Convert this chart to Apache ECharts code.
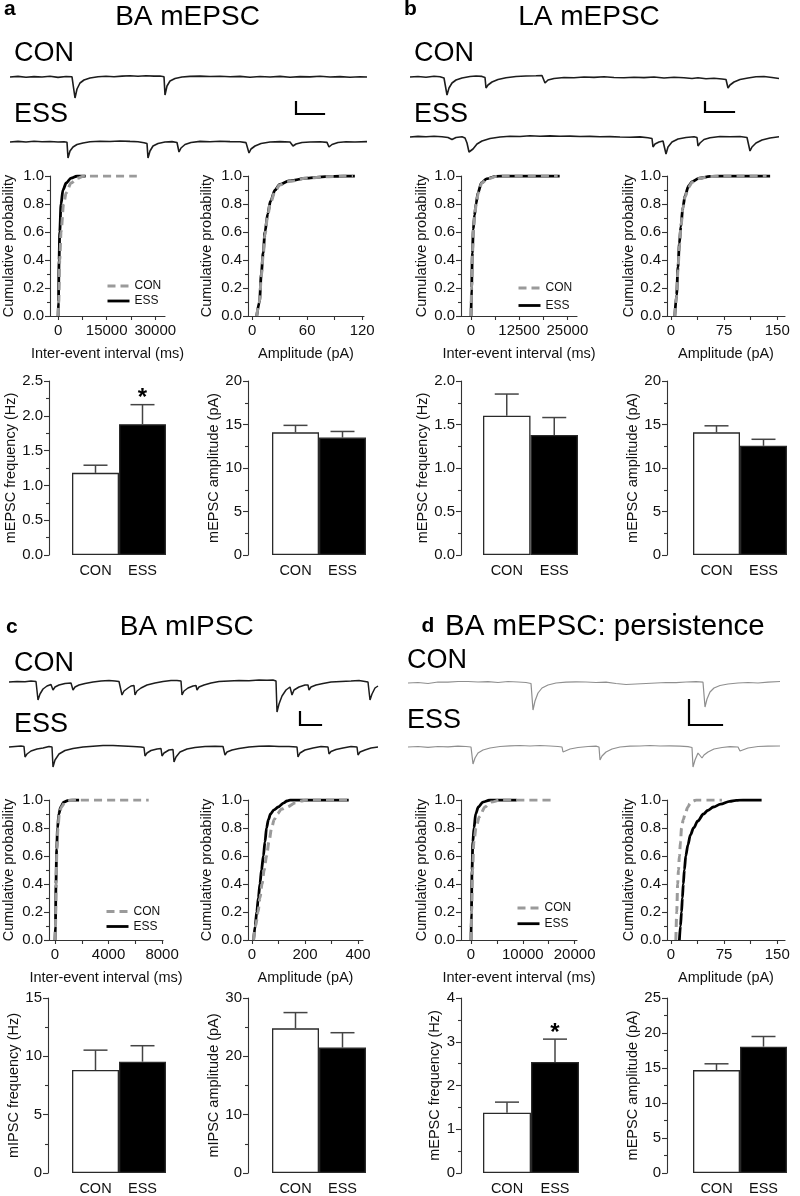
<!DOCTYPE html>
<html><head><meta charset="utf-8">
<script src="https://cdn.jsdelivr.net/npm/echarts@6/dist/echarts.min.js"></script>
<style>html,body{margin:0;padding:0;background:#fff}#c{width:800px;height:1196px}</style>
</head><body><div id="c"></div>
<script>
const FONT = '"Liberation Sans", Arial, Helvetica, sans-serif';
const AX = '#333', TXT = '#111';

// ---------- labels ----------
const groups = ['CON', 'ESS'];
const panelLetters = ['a', 'b', 'c', 'd'];
const panelTitles = ['BA mEPSC', 'LA mEPSC', 'BA mIPSC', 'BA mEPSC: persistence'];
const ieiLabel = 'Inter-event interval (ms)';
const ampLabel = 'Amplitude (pA)';
const cumLabel = 'Cumulative probability';
const barYLabels = ['mEPSC frequency (Hz)', 'mEPSC amplitude (pA)', 'mEPSC frequency (Hz)', 'mEPSC amplitude (pA)',
                    'mIPSC frequency (Hz)', 'mIPSC amplitude (pA)', 'mEPSC frequency (Hz)', 'mEPSC amplitude (pA)'];

// ---------- tick values ----------
const ticksA_iei = [0, 15000, 30000], minorA_iei = [0, 7500, 15000, 22500, 30000];
const ticksA_amp = [0, 60, 120], minorA_amp = [0, 30, 60, 90, 120];
const ticksB_iei = [0, 12500, 25000], minorB_iei = [0, 6250, 12500, 18750, 25000];
const ticksB_amp = [0, 75, 150], minorB_amp = [0, 37.5, 75, 112.5, 150];
const ticksC_iei = [0, 4000, 8000], minorC_iei = [0, 2000, 4000, 6000, 8000];
const ticksC_amp = [0, 200, 400], minorC_amp = [0, 100, 200, 300, 400];
const ticksD_iei = [0, 10000, 20000], minorD_iei = [0, 5000, 10000, 15000, 20000];
const ticksD_amp = [0, 75, 150], minorD_amp = [0, 37.5, 75, 112.5, 150];

// ---------- cumulative distributions [x, probability] ----------
const cumA_iei_ess = [[0,0],[100,0.1],[300,0.4],[500,0.6],[900,0.8],[1500,0.9],[2500,0.95],[4000,0.985],[6000,1],[8500,1]];
const cumA_iei_con = [[0,0],[200,0.1],[500,0.4],[900,0.6],[1700,0.8],[2500,0.88],[4000,0.95],[6000,0.985],[8000,1],[24300,1]];
const cumA_amp_ess = [[5,0],[8,0.1],[10,0.3],[12,0.45],[14,0.6],[17,0.73],[20,0.82],[25,0.9],[30,0.94],[40,0.965],[60,0.985],[80,0.995],[100,1],[112,1]];
const cumA_amp_con = [[5,0],[8,0.1],[10,0.28],[12,0.43],[14,0.58],[17,0.72],[20,0.81],[25,0.89],[30,0.935],[40,0.96],[60,0.985],[80,0.995],[100,1],[110,1]];
const cumB_iei_ess = [[0,0],[150,0.2],[350,0.45],[600,0.62],[900,0.72],[1300,0.8],[1800,0.88],[2700,0.95],[4000,0.98],[6500,0.998],[8000,1],[23000,1]];
const cumB_iei_con = [[0,0],[170,0.2],[380,0.45],[650,0.62],[950,0.72],[1350,0.8],[1900,0.88],[2800,0.95],[4200,0.98],[6800,0.998],[8500,1],[22500,1]];
const cumB_amp_ess = [[5.5,0],[8,0.15],[10,0.35],[12,0.52],[14,0.64],[17,0.78],[20,0.86],[25,0.93],[30,0.96],[40,0.985],[55,0.997],[70,1],[140,1]];
const cumB_amp_con = [[5.5,0],[8,0.14],[10,0.33],[12,0.5],[14,0.63],[17,0.77],[20,0.85],[25,0.92],[30,0.955],[40,0.983],[55,0.996],[70,1],[135,1]];
const cumC_iei_ess = [[0,0],[30,0.1],[70,0.4],[120,0.65],[190,0.8],[280,0.9],[430,0.95],[650,0.985],[1000,0.998],[1300,1],[1800,1]];
const cumC_iei_con = [[0,0],[35,0.1],[80,0.4],[140,0.65],[220,0.8],[320,0.9],[480,0.95],[750,0.985],[1150,0.998],[1500,1],[7000,1]];
const cumC_amp_ess = [[6,0],[12,0.1],[18,0.2],[24,0.3],[30,0.4],[36,0.5],[43,0.6],[49,0.7],[55,0.8],[62,0.86],[70,0.9],[83,0.93],[99,0.95],[120,0.98],[132,0.993],[145,1],[365,1]];
const cumC_amp_con = [[6,0],[14,0.1],[23,0.2],[30,0.3],[38,0.4],[46,0.5],[55,0.6],[64,0.7],[74,0.8],[84,0.86],[95,0.9],[112,0.935],[131,0.95],[165,0.98],[185,0.993],[205,1],[365,1]];
const cumD_iei_ess = [[0,0],[80,0.2],[200,0.5],[350,0.7],[580,0.8],[900,0.9],[1420,0.95],[2300,0.985],[3700,1],[8800,1]];
const cumD_iei_con = [[0,0],[120,0.2],[300,0.5],[550,0.7],[965,0.8],[1600,0.88],[2700,0.95],[3900,0.985],[5600,1],[15900,1]];
const cumD_amp_ess = [[12,0],[13.5,0.1],[15,0.2],[16.2,0.3],[17.5,0.4],[19,0.5],[21,0.6],[24,0.68],[27.5,0.75],[32,0.8],[38,0.85],[46,0.9],[52,0.925],[60,0.95],[70,0.97],[83,0.99],[92,0.997],[102,1],[128,1]];
const cumD_amp_con = [[7,0],[8.3,0.2],[9.5,0.4],[10.7,0.5],[12,0.6],[13.5,0.7],[15,0.8],[17.5,0.86],[20,0.9],[24,0.95],[27,0.975],[30,0.99],[36,1],[72,1]];

// ---------- bar values (mean, SEM) : [CON, ESS] ----------
const barA_freq_mean = [1.18, 1.88], barA_freq_sem = [0.11, 0.28], barA_freq_sig = [0, 1];
const barA_amp_mean = [14.1, 13.5],  barA_amp_sem = [0.8, 0.7],    barA_amp_sig = [0, 0];
const barB_freq_mean = [1.60, 1.38], barB_freq_sem = [0.25, 0.2],  barB_freq_sig = [0, 0];
const barB_amp_mean = [14.1, 12.55], barB_amp_sem = [0.75, 0.75],  barB_amp_sig = [0, 0];
const barC_freq_mean = [8.83, 9.54], barC_freq_sem = [1.7, 1.37],  barC_freq_sig = [0, 0];
const barC_amp_mean = [24.8, 21.5],  barC_amp_sem = [2.7, 2.55],   barC_amp_sig = [0, 0];
const barD_freq_mean = [1.38, 2.54], barD_freq_sem = [0.24, 0.52], barD_freq_sig = [0, 1];
const barD_amp_mean = [14.7, 18.05], barD_amp_sem = [0.9, 1.45],   barD_amp_sig = [0, 0];

// ---------- example traces [time, current] ----------
const traceA_con = [[0,0],[8,0.6],[16,-0.3],[24,0.4],[32,0],[40,0.7],[48,-0.4],[56,0.5],[62,0.2],[64,-0.6],[65,-21],[67,-12],[70,-6],[74,-3],[80,-1],[88,0.3],[96,0.8],[104,0.2],[112,0.9],[120,1.2],[128,0.8],[136,1.3],[144,0.9],[150,1.0],[154,0.2],[155,-18],[157,-9],[160,-4],[165,-1.5],[172,0],[180,0.6],[190,0.9],[200,0.5],[210,0.8],[220,0.2],[230,0.6],[240,-0.2],[250,0.5],[260,0],[270,0.6],[280,-0.3],[290,0.4],[300,0.1],[310,0.7],[320,0],[330,0.4],[340,-0.2],[350,0.3],[357,0]];
const traceA_ess = [[0,0],[8,0.6],[16,0],[24,0.7],[32,0.2],[40,0.5],[48,0],[54,0.3],[57,-0.3],[58,-16],[60,-9],[63,-5],[67,-2.5],[73,-1],[80,0.3],[90,0.8],[100,0.5],[110,1.0],[120,0.6],[128,0.3],[134,-0.8],[137,-1.5],[138,-16],[140,-9],[143,-4],[148,-1.5],[155,0],[162,0.4],[167,-0.5],[169,-10],[171,-6],[175,-2.5],[181,-0.5],[190,0.6],[200,0.3],[210,0.7],[220,0.4],[230,0.2],[236,-0.6],[239,-11],[241,-7],[245,-4],[251,-1.5],[260,0],[270,0.4],[280,0],[283,-4],[286,-2],[292,-0.5],[300,0],[310,0.3],[317,-0.4],[319,-5],[322,-2.5],[328,-0.5],[336,0.3],[345,0],[357,0.4]];
const traceB_con = [[0,0],[8,0.5],[16,-0.2],[24,0.8],[30,0.3],[34,-1],[36,-2],[37,-18],[39,-11],[42,-6],[46,-3],[52,-1],[60,0.5],[66,1],[72,0.6],[75,-0.5],[76,-11],[78,-8],[82,-5],[88,-2.5],[96,-0.8],[106,0.5],[116,1.0],[126,1.2],[132,1.5],[135,-6],[138,-3],[144,-1.5],[154,-0.5],[164,-0.8],[174,0],[184,-0.4],[194,0.2],[204,-0.5],[214,-0.8],[224,-0.2],[234,-0.6],[244,0],[254,-1],[264,-0.3],[274,-0.8],[282,-1.5],[288,-0.8],[296,-1.8],[304,-1.2],[312,-2],[316,-2.5],[318,-11],[320,-8],[324,-5],[330,-2.5],[338,-1],[346,0.2],[354,0.5],[362,-0.5],[369,-1.5]];
const traceB_ess = [[0,0],[8,0.6],[16,0.2],[24,0.8],[32,0.3],[38,-0.5],[42,-2.5],[46,-0.5],[52,0.2],[55,-1],[57,-6],[59,-15],[61,-16],[63,-12],[67,-7],[72,-4],[80,-1.5],[90,0],[100,0.8],[110,0.5],[120,1.2],[130,0.8],[140,1.1],[150,0.7],[160,0.9],[170,0.5],[180,0.6],[190,0.2],[200,0.4],[210,0],[220,-0.3],[230,0.1],[238,-0.8],[242,-1.5],[243,-10],[245,-7],[249,-5],[253,-4],[255,-4.5],[256,-17],[258,-10],[262,-5],[268,-2],[276,-0.5],[284,0.3],[287,-0.5],[288,-9],[290,-6],[294,-2.5],[300,-0.8],[310,0.5],[320,0.3],[330,0.5],[337,-0.5],[340,-14],[342,-10],[346,-6],[352,-3],[360,-1],[369,0.2]];
const traceC_con = [[0,0],[8,0.5],[16,0.3],[22,1],[27,0.5],[28,-0.5],[29,-18],[31,-12],[34,-7],[38,-4],[42,-2.5],[43,-3],[44,-8],[46,-5],[50,-3],[56,-1.5],[62,-1],[63,-2],[64,-8],[66,-5],[70,-3],[76,-1.5],[84,0],[92,1],[100,1.5],[106,1],[110,0.5],[112,0],[113,-13],[115,-9],[119,-6],[122,-4],[125,-3.5],[126,-13],[128,-9],[132,-6],[138,-3],[146,-1],[154,0.5],[162,1.5],[168,1.5],[172,1],[173,-13],[175,-9],[179,-6],[184,-4],[187,-3.5],[188,-8],[190,-5],[195,-3],[202,-1],[210,0.5],[220,1],[230,1.5],[240,1.3],[250,2],[258,1.7],[264,2],[267,1],[268,-30],[270,-22],[273,-14],[277,-8],[281,-5],[282,-5],[283,-13],[285,-8],[290,-5],[296,-3],[299,-3],[300,-8],[302,-5],[307,-3],[314,-1.5],[322,0],[332,0.5],[342,1],[350,1.5],[356,0.5],[359,0],[360,-1],[361,-18],[363,-12],[366,-6],[369,-4]];
const traceC_ess = [[0,0],[6,0.5],[12,1],[15,0.5],[16,-10],[18,-7],[22,-4],[28,-2],[34,-1],[40,0.5],[43,0],[44,-20],[46,-13],[50,-7],[56,-3.5],[64,-1.5],[74,0],[84,0.8],[94,1.5],[104,1.5],[114,1],[124,0.5],[132,0],[135,-0.5],[136,-9],[138,-6],[142,-3.5],[148,-2],[152,-1.5],[153,-9],[155,-6],[160,-3],[164,-2.5],[165,-15],[167,-10],[171,-5],[178,-2],[186,-0.5],[196,0.5],[206,0.8],[214,0.5],[215,0],[216,-8],[218,-5],[223,-3],[230,-1.5],[240,0],[250,0.8],[260,1],[270,0.5],[280,0.5],[288,0],[289,-10],[291,-6],[296,-3],[304,-1],[312,0.5],[319,0],[320,-7],[322,-4.5],[327,-2.5],[334,-1],[342,0.5],[348,0],[349,-8],[351,-5],[356,-3],[362,-1],[369,0]];
const traceD_con = [[0,0],[10,0.5],[20,-0.5],[30,1],[40,0.8],[50,1.5],[60,1.5],[70,1],[80,1.3],[90,0.5],[100,1.5],[110,1],[118,0.5],[123,-0.5],[124,-1],[125,-27],[127,-18],[130,-10],[134,-5],[140,-2],[148,0],[158,0.8],[168,1.2],[178,1],[188,0.5],[198,0.8],[208,-0.5],[218,-1.5],[228,-1],[238,-0.5],[248,0],[258,0.5],[268,0.3],[278,1],[288,1.3],[295,0.8],[296,0],[297,-24],[299,-16],[302,-9],[306,-5],[312,-2.5],[320,-1],[330,0],[340,0.5],[350,0],[360,0.8],[372,1.5]];
const traceD_ess = [[0,0],[10,0.5],[20,-0.3],[30,0.5],[40,0.2],[50,0.8],[58,0.5],[63,0],[64,-1],[65,-17],[67,-11],[70,-6],[75,-3],[82,-1],[92,0.5],[102,1.2],[112,1.5],[122,1],[132,1.5],[142,1],[150,0.5],[154,0],[155,-5],[157,-3.5],[162,-2],[170,-0.5],[180,0.5],[188,0.8],[191,0],[192,-13],[194,-9],[198,-5],[204,-2],[212,0],[222,0.8],[232,1],[242,1.5],[252,1],[262,1.2],[272,0.8],[280,0.3],[284,-0.5],[285,-20],[287,-13],[290,-6],[292,-4],[294,-11],[296,-8],[300,-5],[306,-2],[314,-0.5],[322,0.3],[330,0],[332,-4],[334,-3],[340,-1],[350,0.5],[360,0.8],[372,1]];
// scale bars (in each CON trace's units)
const scaleA = [[286,-25],[286,-37],[314,-37]];
const scaleB = [[295,-25],[295,-35],[324,-35]];
const scaleC = [[291,-30],[291,-43],[312,-43]];
const scaleD = [[281,-17],[281,-42],[314,-42]];

// ================= build =================
const grids = [], xAxes = [], yAxes = [], series = [], legends = [], graphics = [];
function addGrid(l, t, w, h) { grids.push({left: l, top: t, width: w, height: h, containLabel: false}); return grids.length - 1; }

const DARK = '#1c1c1c', GRAYTR = '#8f8f8f';
const traceLayouts = [
  {data: traceA_con, left: 10, top: 67, w: 357, ymin: -40, ymax: 10, color: DARK, lw: 1.6, bar: scaleA},
  {data: traceA_ess, left: 10, top: 134, w: 357, ymin: -22, ymax: 8, color: DARK, lw: 1.6},
  {data: traceB_con, left: 410, top: 67, w: 369, ymin: -40, ymax: 10, color: DARK, lw: 1.6, bar: scaleB},
  {data: traceB_ess, left: 410, top: 129, w: 369, ymin: -22, ymax: 8, color: DARK, lw: 1.6},
  {data: traceC_con, left: 9, top: 672, w: 369, ymin: -50, ymax: 10, color: DARK, lw: 1.5, bar: scaleC},
  {data: traceC_ess, left: 9, top: 737, w: 369, ymin: -25, ymax: 10, color: DARK, lw: 1.5},
  {data: traceD_con, left: 408, top: 673, w: 372, ymin: -50, ymax: 10, color: GRAYTR, lw: 1.2, bar: scaleD},
  {data: traceD_ess, left: 408, top: 737, w: 372, ymin: -25, ymax: 10, color: GRAYTR, lw: 1.2}
];
traceLayouts.forEach(T => {
  const gi = addGrid(T.left, T.top, T.w, T.ymax - T.ymin);
  xAxes.push({gridIndex: gi, type: 'value', min: 0, max: T.w, show: false});
  yAxes.push({gridIndex: gi, type: 'value', min: T.ymin, max: T.ymax, show: false});
  series.push({type: 'line', xAxisIndex: gi, yAxisIndex: gi, data: T.data, symbol: 'none', silent: true,
    lineStyle: {color: T.color, width: T.lw}, clip: false});
  if (T.bar) series.push({type: 'line', xAxisIndex: gi, yAxisIndex: gi, data: T.bar, symbol: 'none', silent: true,
    lineStyle: {color: '#000', width: 2.2, cap: 'square', join: 'miter'}, clip: false});
});

const tickStyle = {color: AX, width: 1.1};
const cumLayouts = [
  {left: 49, top: 176, w: 116, xmin: -2500, xmax: 33000, labels: ticksA_iei, ticks: minorA_iei, name: ieiLabel, yGap: 34, con: cumA_iei_con, ess: cumA_iei_ess,
   legend: {left: 106, top: 280, gap: 3}},
  {left: 248, top: 176, w: 116, xmin: -4.5, xmax: 122, labels: ticksA_amp, ticks: minorA_amp, name: ampLabel, yGap: 34, con: cumA_amp_con, ess: cumA_amp_ess},
  {left: 461, top: 176, w: 116, xmin: -2600, xmax: 27500, labels: ticksB_iei, ticks: minorB_iei, name: ieiLabel, yGap: 32, con: cumB_iei_con, ess: cumB_iei_ess,
   legend: {left: 517, top: 282, gap: 5.5}},
  {left: 667, top: 176, w: 118, xmin: -5.5, xmax: 161, labels: ticksB_amp, ticks: minorB_amp, name: ampLabel, yGap: 31, con: cumB_amp_con, ess: cumB_amp_ess},
  {left: 48, top: 800, w: 115, xmin: -450, xmax: 8070, labels: ticksC_iei, ticks: minorC_iei, name: ieiLabel, yGap: 33, con: cumC_iei_con, ess: cumC_iei_ess,
   legend: {left: 105, top: 905.5, gap: 3}},
  {left: 248, top: 800, w: 115, xmin: -15, xmax: 419, labels: ticksC_amp, ticks: minorC_amp, name: ampLabel, yGap: 34, con: cumC_amp_con, ess: cumC_amp_ess},
  {left: 461, top: 800, w: 116, xmin: -1930, xmax: 20460, labels: ticksD_iei, ticks: minorD_iei, name: ieiLabel, yGap: 32, con: cumD_iei_con, ess: cumD_iei_ess,
   legend: {left: 516, top: 902, gap: 3.7}},
  {left: 667, top: 800, w: 118, xmin: -5.5, xmax: 161, labels: ticksD_amp, ticks: minorD_amp, name: ampLabel, yGap: 31, con: cumD_amp_con, ess: cumD_amp_ess}
];
const CONSTYLE = {color: '#9a9a9a', width: 3, type: [8, 5]};
const ESSSTYLE = {color: '#000', width: 2.8, type: 'solid'};
cumLayouts.forEach(L => {
  const gi = addGrid(L.left, L.top, L.w, 140);
  xAxes.push({gridIndex: gi, type: 'value', min: L.xmin, max: L.xmax,
    name: L.name, nameLocation: 'middle', nameGap: 30,
    nameTextStyle: {color: TXT, fontSize: 14.5, fontFamily: FONT},
    axisLine: {show: true, onZero: false, lineStyle: tickStyle},
    axisTick: {show: true, length: 4, lineStyle: tickStyle, customValues: L.ticks},
    axisLabel: {color: TXT, fontSize: 15, fontFamily: FONT, margin: 7, customValues: L.labels, formatter: v => String(v)},
    splitLine: {show: false}});
  yAxes.push({gridIndex: gi, type: 'value', min: 0, max: 1, interval: 0.2,
    name: cumLabel, nameLocation: 'middle', nameGap: L.yGap,
    nameTextStyle: {color: TXT, fontSize: 14.5, fontFamily: FONT},
    axisLine: {show: true, onZero: false, lineStyle: tickStyle},
    axisTick: {show: true, length: 5, lineStyle: tickStyle},
    minorTick: {show: true, splitNumber: 2, length: 3, lineStyle: tickStyle},
    axisLabel: {color: TXT, fontSize: 15, fontFamily: FONT, margin: 6, formatter: v => v.toFixed(1)},
    splitLine: {show: false}, minorSplitLine: {show: false}});
  series.push({type: 'line', name: 'ESS', xAxisIndex: gi, yAxisIndex: gi, data: L.ess, symbol: 'none', smooth: 0.3, smoothMonotone: 'x',
    lineStyle: ESSSTYLE, itemStyle: {color: ESSSTYLE.color}, z: 2, silent: true});
  series.push({type: 'line', name: 'CON', xAxisIndex: gi, yAxisIndex: gi, data: L.con, symbol: 'none', smooth: 0.3, smoothMonotone: 'x',
    lineStyle: CONSTYLE, itemStyle: {color: CONSTYLE.color}, z: 3, silent: true});
  if (L.legend) legends.push({show: true, orient: 'vertical', left: L.legend.left, top: L.legend.top, padding: 0,
    itemWidth: 22, itemHeight: 12, itemGap: L.legend.gap, itemTextGap: 8, selectedMode: false,
    textStyle: {color: TXT, fontSize: 12, fontFamily: FONT},
    data: [{name: 'CON', lineStyle: CONSTYLE, itemStyle: {opacity: 0}},
           {name: 'ESS', lineStyle: ESSSTYLE, itemStyle: {opacity: 0}}]});
});

const barLayouts = [
  {left: 72, top: 381, w: 94, h: 174, off: 23, max: 2.5, step: 0.5, dec: 1, yGap: 29, mean: barA_freq_mean, sem: barA_freq_sem, sig: barA_freq_sig},
  {left: 272, top: 381, w: 94, h: 174, off: 24, max: 20, step: 5, dec: 0, yGap: 25, mean: barA_amp_mean, sem: barA_amp_sem, sig: barA_amp_sig},
  {left: 483, top: 381, w: 95, h: 174, off: 22, max: 2, step: 0.5, dec: 1, yGap: 27, mean: barB_freq_mean, sem: barB_freq_sem, sig: barB_freq_sig},
  {left: 693, top: 381, w: 94, h: 174, off: 26, max: 20, step: 5, dec: 0, yGap: 24, mean: barB_amp_mean, sem: barB_amp_sem, sig: barB_amp_sig},
  {left: 72, top: 998, w: 94, h: 175, off: 24, max: 15, step: 5, dec: 0, yGap: 22, mean: barC_freq_mean, sem: barC_freq_sem, sig: barC_freq_sig},
  {left: 272, top: 998, w: 94, h: 175, off: 24, max: 30, step: 10, dec: 0, yGap: 25, mean: barC_amp_mean, sem: barC_amp_sem, sig: barC_amp_sig},
  {left: 483, top: 998, w: 96, h: 175, off: 22, max: 4, step: 1, dec: 0, yGap: 19, mean: barD_freq_mean, sem: barD_freq_sem, sig: barD_freq_sig},
  {left: 693, top: 998, w: 94, h: 175, off: 26, max: 25, step: 5, dec: 0, yGap: 23, mean: barD_amp_mean, sem: barD_amp_sem, sig: barD_amp_sig}
];
barLayouts.forEach((B, k) => {
  const gi = addGrid(B.left, B.top, B.w, B.h);
  xAxes.push({gridIndex: gi, type: 'category', data: groups,
    axisLine: {show: false}, axisTick: {show: false},
    axisLabel: {color: TXT, fontSize: 14.5, fontFamily: FONT, margin: 8}});
  yAxes.push({gridIndex: gi, type: 'value', min: 0, max: B.max, interval: B.step, offset: B.off,
    name: barYLabels[k], nameLocation: 'middle', nameGap: B.yGap,
    nameTextStyle: {color: TXT, fontSize: 14.5, fontFamily: FONT},
    axisLine: {show: true, onZero: false, lineStyle: tickStyle},
    axisTick: {show: true, length: 5, lineStyle: tickStyle},
    minorTick: {show: true, splitNumber: 2, length: 3, lineStyle: tickStyle},
    axisLabel: {color: TXT, fontSize: 15, fontFamily: FONT, margin: 6, formatter: v => v.toFixed(B.dec)},
    splitLine: {show: false}, minorSplitLine: {show: false}});
  series.push({type: 'bar', xAxisIndex: gi, yAxisIndex: gi, barWidth: '100%', silent: true, z: 2,
    data: B.mean.map((v, i) => ({value: v, itemStyle: {color: i ? '#000' : '#fff', borderColor: '#2a2a2a', borderWidth: 1.3}}))});
  series.push({type: 'custom', xAxisIndex: gi, yAxisIndex: gi, silent: true, z: 3,
    data: B.mean.map((v, i) => [i, v, v + B.sem[i], B.sig[i]]),
    renderItem: (params, api) => {
      const p0 = api.coord([api.value(0), api.value(1)]);
      const p1 = api.coord([api.value(0), api.value(2)]);
      const st = {stroke: '#444', lineWidth: 1.5};
      const ch = [
        {type: 'line', shape: {x1: p0[0], y1: p0[1], x2: p1[0], y2: p1[1]}, style: st},
        {type: 'line', shape: {x1: p1[0] - 12, y1: p1[1], x2: p1[0] + 12, y2: p1[1]}, style: st}
      ];
      if (api.value(3)) ch.push({type: 'text', x: p1[0], y: p1[1] - 6,
        style: {text: '*', fill: '#000', font: 'bold 24px ' + FONT, align: 'center', verticalAlign: 'middle', textAlign: 'center', textVerticalAlign: 'middle'}});
      return {type: 'group', children: ch};
    }});
});

// ---------- text ----------
function txt(s, x, y, size, bold, align) {
  graphics.push({type: 'text', x: x, y: y, silent: true,
    style: {text: s, fill: '#000', font: (bold ? 'bold ' : '') + size + 'px ' + FONT,
      align: align || 'left', textAlign: align || 'left', verticalAlign: 'middle', textVerticalAlign: 'middle'}});
}
const letterPos = [[4, 9.5], [404, 9.5], [6, 627.7], [421.5, 626.7]];
const titlePos = [[187.5, 17, 'center', 28], [589, 17, 'center', 28], [186.7, 627, 'center', 28], [445, 626.5, 'left', 29.5]];
const groupPos = [[[14, 53.8], [14, 114.5]], [[414, 53.3], [414, 114.5]], [[14, 663.8], [14, 724.5]], [[407, 660.5], [407, 720.5]]];
panelLetters.forEach((s, i) => txt(s, letterPos[i][0], letterPos[i][1], 21, true));
panelTitles.forEach((s, i) => txt(s, titlePos[i][0], titlePos[i][1], titlePos[i][3], false, titlePos[i][2]));
groupPos.forEach(p => groups.forEach((g, j) => txt(g, p[j][0], p[j][1], 27, false)));

const chart = echarts.init(document.getElementById('c'), null, {renderer: 'canvas'});
chart.setOption({
  animation: false, backgroundColor: '#fff',
  grid: grids, xAxis: xAxes, yAxis: yAxes, series: series, legend: legends, graphic: {elements: graphics}
});
</script></body></html>
